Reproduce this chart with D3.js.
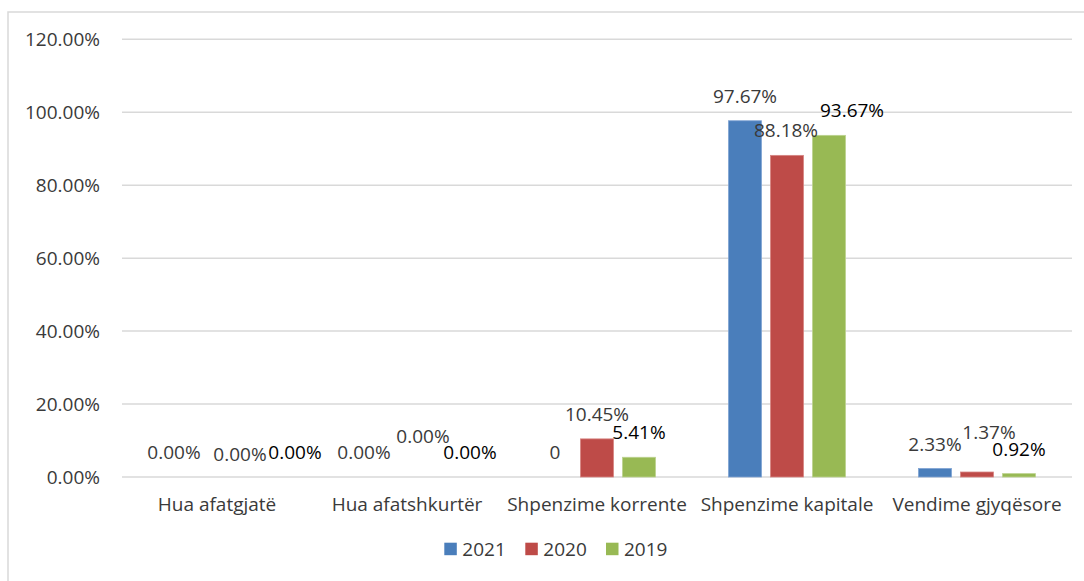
<!DOCTYPE html>
<html>
<head>
<meta charset="utf-8">
<script src="https://cdn.jsdelivr.net/npm/d3@7"></script>
<style>
  html, body { margin: 0; padding: 0; background: #fff; }
  svg { display: block; }
  text { font-family: "Open Sans", "Noto Sans", sans-serif; }
</style>
</head>
<body>
<svg id="chart" width="1084" height="581"></svg>
<script>
// ---- Data ----
const categories = ["Hua afatgjatë", "Hua afatshkurtër", "Shpenzime korrente", "Shpenzime kapitale", "Vendime gjyqësore"];
const seriesNames = ["2021", "2020", "2019"];
const values2021 = [0.0000, 0.0000, 0.0000, 0.9767, 0.0233];
const values2020 = [0.0000, 0.0000, 0.1045, 0.8818, 0.0137];
const values2019 = [0.0000, 0.0000, 0.0541, 0.9367, 0.0092];
const labels2021 = ["0.00%", "0.00%", "0", "97.67%", "2.33%"];
const labels2020 = ["0.00%", "0.00%", "10.45%", "88.18%", "1.37%"];
const labels2019 = ["0.00%", "0.00%", "5.41%", "93.67%", "0.92%"];
const yTicks = [0, 0.2, 0.4, 0.6, 0.8, 1.0, 1.2];

// ---- Layout / style ----
const colors = ["#4a7ebb", "#be4b48", "#98b954"];
const strokeColors = ["#7fa3d3", "#d68583", "#bcd38f"];
const labelColors = ["#3a3a3a", "#3a3a3a", "#000000"];
// manual data-label nudges (dx, dy) per series x category, as placed in the original
const labelNudge = [
  [[-1, 0], [-1, 0], [0, 0], [0, 0], [0, 0]],
  [[23, 2], [16, -16], [0, 0], [-1, 0], [12, -15]],
  [[36, 0], [21, 0], [0, 0], [23, 0], [0, 0]]
];

const plot = { left: 122, right: 1072, top: 39.3, bottom: 477 };
const svg = d3.select("#chart");

// chart border
svg.append("rect")
  .attr("x", 8).attr("y", 12).attr("width", 1200).attr("height", 700)
  .attr("fill", "none").attr("stroke", "#d9d9d9").attr("stroke-width", 1.5);

const series = [values2021, values2020, values2019];
const seriesLabels = [labels2021, labels2020, labels2019];

const x0 = d3.scaleBand().domain(categories).range([plot.left, plot.right])
  .paddingInner(0.384).paddingOuter(0.192);
const x1 = d3.scaleBand().domain(seriesNames).range([0, x0.bandwidth()])
  .paddingInner(9 / 42).paddingOuter(0);
const y = d3.scaleLinear().domain([0, 1.2]).range([plot.bottom, plot.top]);

// gridlines
const grid = svg.append("g");
grid.selectAll("line").data(yTicks).join("line")
  .attr("x1", plot.left).attr("x2", plot.right)
  .attr("y1", d => y(d)).attr("y2", d => y(d))
  .attr("stroke", "#d9d9d9").attr("stroke-width", 1.5);

// y axis labels
const yAxis = d3.axisLeft(y).tickValues(yTicks).tickFormat(d3.format(".2%")).tickSize(0).tickPadding(0);
const yg = svg.append("g").attr("transform", `translate(100,0)`).call(yAxis);
yg.select(".domain").remove();
yg.selectAll("text")
  .attr("font-size", 19).attr("fill", "#3a3a3a")
  .attr("font-family", "'Open Sans', sans-serif")
  .attr("dy", "0.32em");

// x axis labels
const xAxis = d3.axisBottom(x0).tickSize(0).tickPadding(0);
const xg = svg.append("g").attr("transform", `translate(0,${plot.bottom})`).call(xAxis);
xg.select(".domain").remove();
xg.selectAll("text")
  .attr("font-size", 19).attr("fill", "#3a3a3a")
  .attr("font-family", "'Open Sans', sans-serif")
  .attr("y", 34).attr("dy", 0);

// bars
const barData = [];
categories.forEach((c, i) => {
  seriesNames.forEach((s, j) => {
    barData.push({ cat: c, ser: s, i, j, v: series[j][i], label: seriesLabels[j][i] });
  });
});

svg.append("g").selectAll("rect").data(barData).join("rect")
  .attr("x", d => x0(d.cat) + x1(d.ser))
  .attr("y", d => y(d.v))
  .attr("width", x1.bandwidth())
  .attr("height", d => Math.max(0, y(0) - y(d.v)))
  .attr("fill", d => colors[d.j])
  .attr("stroke", d => d.v > 0 ? strokeColors[d.j] : "none")
  .attr("stroke-width", 0.8);

// data labels
svg.append("g").selectAll("text").data(barData).join("text")
  .attr("x", d => x0(d.cat) + x1(d.ser) + x1.bandwidth() / 2 + labelNudge[d.j][d.i][0])
  .attr("y", d => y(d.v) - 18 + labelNudge[d.j][d.i][1])
  .attr("text-anchor", "middle")
  .attr("font-size", 19)
  .attr("fill", d => labelColors[d.j])
  .text(d => d.label);

// legend
const legendX = [444.3, 525.3, 606];
const legend = svg.append("g");
seriesNames.forEach((s, j) => {
  legend.append("rect")
    .attr("x", legendX[j]).attr("y", 542.7)
    .attr("width", 12.5).attr("height", 12.5)
    .attr("fill", colors[j]);
  legend.append("text")
    .attr("x", legendX[j] + 18).attr("y", 556)
    .attr("font-size", 19).attr("fill", "#3a3a3a")
    .text(s);
});
</script>
</body>
</html>
